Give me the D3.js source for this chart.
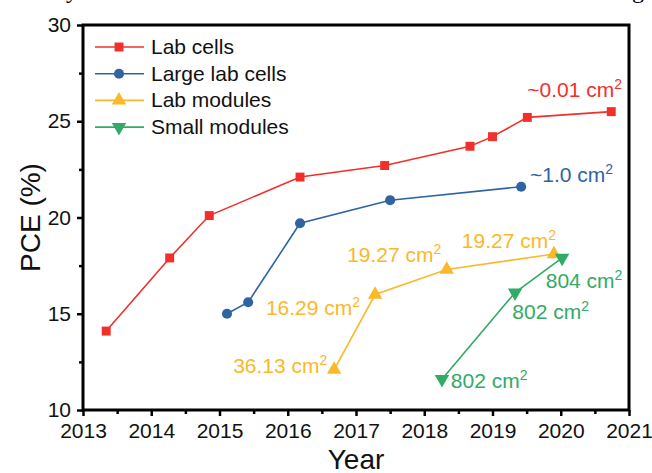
<!DOCTYPE html>
<html>
<head>
<meta charset="utf-8">
<script src="https://cdn.jsdelivr.net/npm/d3@7"></script>
<style>
  body { margin: 0; background: #fff; }
  svg { display: block; font-family: "Liberation Sans", Arial, sans-serif; }
</style>
</head>
<body>
<svg id="chart"></svg>
<script>
// values
var labCellYears = [2013.34, 2014.27, 2014.85, 2016.18, 2017.42, 2018.67, 2019.0, 2019.51, 2020.74];
var labCellPCE   = [14.1, 17.9, 20.1, 22.1, 22.7, 23.7, 24.2, 25.2, 25.5];

var largeCellYears = [2015.11, 2015.42, 2016.18, 2017.5, 2019.42];
var largeCellPCE   = [15.0, 15.6, 19.7, 20.9, 21.6];

var labModuleYears = [2016.68, 2017.28, 2018.33, 2019.9];
var labModulePCE   = [12.1, 16.0, 17.3, 18.1];

var smallModuleYears = [2018.26, 2019.33, 2020.02];
var smallModulePCE   = [11.6, 16.1, 17.9];

var seriesNames = ["Lab cells", "Large lab cells", "Lab modules", "Small modules"];
var xTicks = [2013, 2014, 2015, 2016, 2017, 2018, 2019, 2020, 2021];
var yTicks = [10, 15, 20, 25, 30];

// area labels: [year, PCE, text, series index]
var areaLabels = [
  [2019.51, 26.26, "~0.01 cm", 0],
  [2019.55, 21.84, "~1.0 cm", 1],
  [2016.87, 17.69, "19.27 cm", 2],
  [2018.55, 18.42, "19.27 cm", 2],
  [2015.68, 14.94, "16.29 cm", 2],
  [2016.58, 11.92, "36.13 cm", 2],
  [2019.78, 16.34, "804 cm", 3],
  [2019.29, 14.73, "802 cm", 3],
  [2018.39, 11.14, "802 cm", 3]
];

var colors = ["#f1302b", "#2f63a2", "#fbb829", "#32aa68"];
var symbols = [d3.symbolSquare, d3.symbolCircle, d3.symbolTriangle, d3.symbolTriangle];
var symSize = [80, 80, 90, 90];

var svgWidth = 652, svgHeight = 473;
var margin = { top: 25, right: 23, bottom: 63, left: 83 };
var width = svgWidth - margin.left - margin.right;
var height = svgHeight - margin.top - margin.bottom;

var svg = d3.select("#chart")
  .attr("width", svgWidth)
  .attr("height", svgHeight);

svg.append("rect").attr("width", svgWidth).attr("height", svgHeight).attr("fill", "#fff");

// tail of the caption line above the figure
svg.append("text").attr("x", 66).attr("y", -2)
  .attr("font-family", "Liberation Serif, serif").attr("font-size", 24).text("y");
svg.append("text").attr("x", 632).attr("y", -2)
  .attr("font-family", "Liberation Serif, serif").attr("font-size", 24).text("g");

var g = svg.append("g")
  .attr("transform", "translate(" + margin.left + "," + margin.top + ")");

var x = d3.scaleLinear().domain([2013, 2021]).range([0, width]);
var y = d3.scaleLinear().domain([10, 30]).range([height, 0]);

// minor ticks
g.append("g")
  .attr("transform", "translate(0," + height + ")")
  .call(d3.axisBottom(x).tickValues(d3.range(2013.5, 2021, 1)).tickSize(4).tickFormat(""))
  .call(function (a) { a.select(".domain").remove(); a.selectAll("line").attr("stroke-width", 2.5); });
g.append("g")
  .call(d3.axisLeft(y).tickValues([12.5, 17.5, 22.5, 27.5]).tickSize(4).tickFormat(""))
  .call(function (a) { a.select(".domain").remove(); a.selectAll("line").attr("stroke-width", 2.5); });

// major ticks
g.append("g")
  .attr("transform", "translate(0," + height + ")")
  .call(d3.axisBottom(x).tickValues(xTicks).tickSize(6).tickPadding(7).tickFormat(d3.format("d")))
  .call(function (a) {
    a.select(".domain").remove();
    a.selectAll("line").attr("stroke-width", 2.5);
    a.selectAll("text").attr("font-size", 21).attr("fill", "#111").attr("font-family", null);
  });
g.append("g")
  .call(d3.axisLeft(y).tickValues(yTicks).tickSize(6).tickPadding(6))
  .call(function (a) {
    a.select(".domain").remove();
    a.selectAll("line").attr("stroke-width", 2.5);
    a.selectAll("text").attr("font-size", 21).attr("fill", "#111").attr("font-family", null);
  });

// frame
g.append("rect")
  .attr("width", width).attr("height", height)
  .attr("fill", "none").attr("stroke", "#000").attr("stroke-width", 3);

// axis titles
svg.append("text")
  .attr("x", margin.left + width / 2).attr("y", 469)
  .attr("text-anchor", "middle").attr("font-size", 28).attr("fill", "#111")
  .text("Year");
svg.append("text")
  .attr("transform", "translate(40," + (margin.top + height / 2) + ") rotate(-90)")
  .attr("text-anchor", "middle").attr("font-size", 28).attr("fill", "#111")
  .text("PCE (%)");

var series = [
  d3.zip(labCellYears, labCellPCE),
  d3.zip(largeCellYears, largeCellPCE),
  d3.zip(labModuleYears, labModulePCE),
  d3.zip(smallModuleYears, smallModulePCE)
];

var line = d3.line()
  .x(function (d) { return x(d[0]); })
  .y(function (d) { return y(d[1]); });

series.forEach(function (data, i) {
  g.append("path")
    .datum(data)
    .attr("fill", "none")
    .attr("stroke", colors[i])
    .attr("stroke-width", 1.6)
    .attr("d", line);

  g.selectAll(".m" + i)
    .data(data)
    .enter().append("path")
    .attr("transform", function (d) {
      return "translate(" + x(d[0]) + "," + y(d[1]) + ")" + (i === 3 ? " rotate(180)" : "");
    })
    .attr("d", d3.symbol().type(symbols[i]).size(symSize[i]))
    .attr("fill", colors[i]);
});

// area labels
areaLabels.forEach(function (l) {
  var t = g.append("text")
    .attr("x", x(l[0])).attr("y", y(l[1]))
    .attr("font-size", 21)
    .attr("fill", colors[l[3]])
    .attr("text-anchor", l[2] === "36.13 cm" ? "end" : "start")
    .text(l[2]);
  t.append("tspan").attr("font-size", 14).attr("dy", -8).text("2");
});

// legend
var legend = svg.append("g").attr("transform", "translate(95,47)");
seriesNames.forEach(function (name, i) {
  var row = legend.append("g").attr("transform", "translate(0," + (i * 26.7) + ")");
  row.append("line").attr("x1", 0).attr("x2", 49)
    .attr("stroke", colors[i]).attr("stroke-width", 1.6);
  row.append("path")
    .attr("transform", "translate(24,0)" + (i === 3 ? " rotate(180)" : ""))
    .attr("d", d3.symbol().type(symbols[i]).size(symSize[i]))
    .attr("fill", colors[i]);
  row.append("text").attr("x", 56).attr("y", 7)
    .attr("font-size", 21).attr("fill", "#111").text(name);
});
</script>
</body>
</html>
